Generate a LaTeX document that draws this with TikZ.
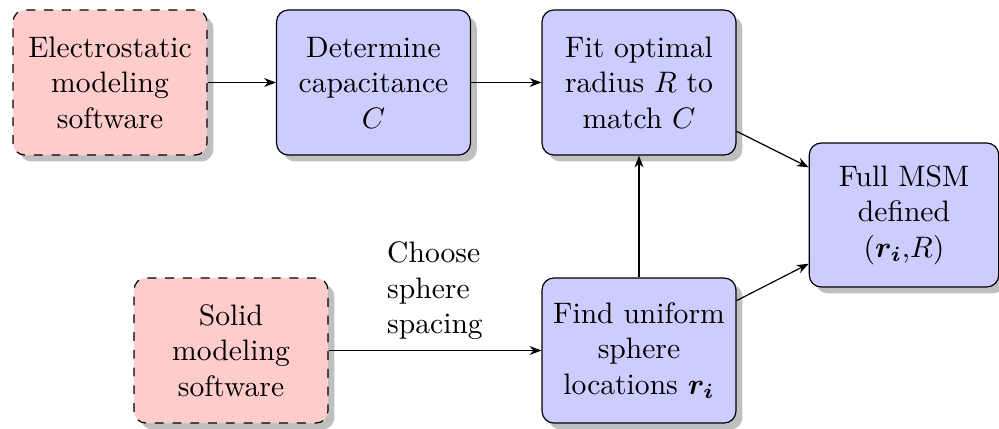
\documentclass[tikz,border=0pt]{standalone}
\usepackage{amsmath}
\usetikzlibrary{shadows,arrows.meta}
\begin{document}
\begin{tikzpicture}[x=0.3378pt,y=-0.3378pt,
  box/.style={draw, rounded corners=4pt, drop shadow, minimum width=65.5pt, minimum height=49pt, text width=60pt, align=center, inner sep=2pt},
  extbox/.style={box, dashed, fill=red!20},
  procbox/.style={box, fill=blue!20},
  conn/.style={-{Stealth[length=4pt,width=3pt]}, line width=0.4pt}]
\useasboundingbox (0,0) rectangle (999,428);
\node[extbox] (es) at (110,82.5) {Electrostatic\\modeling\\software};
\node[procbox] (det) at (373.5,82.5) {Determine\\capacitance\\$C$};
\node[procbox] (fit) at (639,82.5) {Fit optimal\\radius $R$ to\\match $C$};
\node[procbox, minimum width=62.2pt, minimum height=48.6pt] (full) at (904,215) {Full MSM\\defined\\($\boldsymbol{r_i}$,$R$)};
\node[extbox] (solid) at (231,350.5) {Solid\\modeling\\software};
\node[procbox] (find) at (639,350.5) {Find uniform\\sphere\\locations $\boldsymbol{r_i}$};
\draw[conn] (es) -- (det);
\draw[conn] (det) -- (fit);
\draw[conn] (fit) -- (full);
\draw[conn] (find) -- (full);
\draw[conn] (find) -- (fit);
\draw[conn] (solid) -- node[above, align=left] (lbl) {Choose\\sphere\\spacing} (find);
\end{tikzpicture}
\end{document}
